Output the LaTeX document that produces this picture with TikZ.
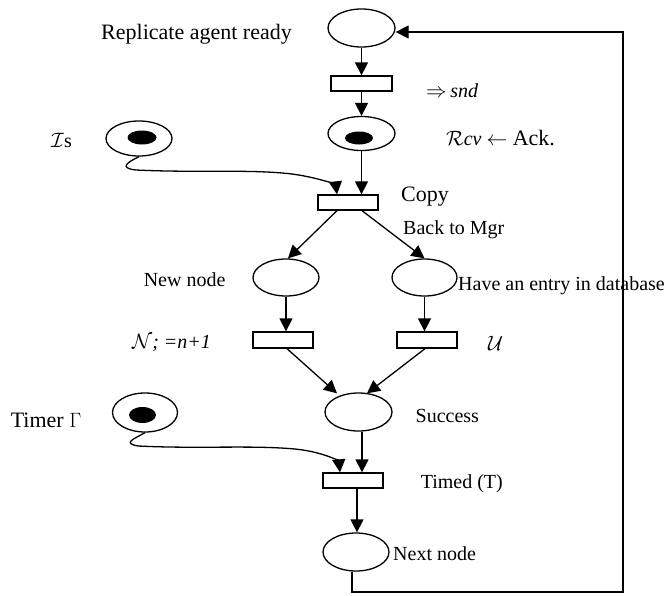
\documentclass[tikz,border=0pt]{standalone}
\usepackage{fontspec}
\setmainfont{Liberation Serif}
\usetikzlibrary{arrows.meta,calc,shapes.geometric}
\begin{document}
\begin{tikzpicture}[x=1pt,y=-1pt,
  place/.style={draw,ellipse,line width=1.3pt,inner sep=0pt},
  trans/.style={draw,rectangle,line width=1.3pt,inner sep=0pt,minimum width=60pt,minimum height=15pt},
  token/.style={fill=black,ellipse,inner sep=0pt},
  arr/.style={line width=1.3pt,-{Triangle[length=13pt,width=13pt]}},
  lbl/.style={anchor=west,inner sep=0pt,font=\fontsize{20}{24}\selectfont},
  lblb/.style={anchor=west,inner sep=0pt,font=\fontsize{22}{26}\selectfont}]
\useasboundingbox (0,0) rectangle (666,595);
% places
\node[place,minimum width=67pt,minimum height=38pt] (p1) at (361.5,28) {};
\node[place,minimum width=67pt,minimum height=34pt] (p2) at (361.5,133.5) {};
\node[token,minimum width=28pt,minimum height=13pt] (d2) at (359,138) {};
\node[place,minimum width=66pt,minimum height=35pt] (pI) at (139,138.5) {};
\node[token,minimum width=29pt,minimum height=14pt] (dI) at (142,137.5) {};
\node[place,minimum width=66pt,minimum height=37pt] (pNew) at (286,277.5) {};
\node[place,minimum width=65pt,minimum height=37pt] (pHave) at (424.5,277.5) {};
\node[place,minimum width=67pt,minimum height=38pt] (pSucc) at (358.5,412) {};
\node[place,minimum width=65pt,minimum height=39pt] (pTimer) at (145,412.5) {};
\node[token,minimum width=27pt,minimum height=16pt] (dT) at (142.5,415) {};
\node[place,minimum width=66pt,minimum height=38pt] (pNext) at (356,552) {};
% transitions
\node[trans,minimum width=61pt] (t1) at (361.5,83.5) {};
\node[trans] (copy) at (348,202.5) {};
\node[trans,minimum height=16pt] (tN) at (283,340) {};
\node[trans,minimum height=16pt] (tU) at (427,340) {};
\node[trans] (tTimed) at (353,480.5) {};
% corners of feedback loop
\coordinate (c1) at (623,592);
\coordinate (c2) at (623,32);
% arcs
\draw[arr] (p1.south) -- (t1.north);
\draw[arr] (t1.south) -- (p2.north);
\draw[arr] (p2.south) -- (p2.south |- copy.north);
\draw[arr] (pI.south) .. controls (128,162) and (118,168) .. (136,170)
  .. controls (200,173) and (250,169) .. (292,174)
  .. controls (322,178) and (336,186) .. ([xshift=-11pt]copy.north);
\draw[arr] ([xshift=-11pt]copy.south) -- ([xshift=2pt]pNew.north);
\draw[arr] ([xshift=14pt]copy.south) -- (pHave.north);
\draw[arr] (pNew.south) -- (pNew.south |- tN.north);
\draw[arr] (pHave.south) -- (pHave.south |- tU.north);
\draw[arr] ([xshift=4pt]tN.south) -- ($(pSucc.north)+(-21.5,1)$);
\draw[arr] ([xshift=-2pt]tU.south) -- ($(pSucc.north)+(8.5,1)$);
\draw[arr] ([xshift=3.5pt]pSucc.south) -- ([xshift=9pt]tTimed.north);
\draw[arr] (pTimer.south) .. controls (134,439) and (122,443) .. (138,446)
  .. controls (200,449) and (250,445) .. (295,449)
  .. controls (325,452) and (339,462) .. ([xshift=-13pt]tTimed.north);
\draw[arr] ([xshift=4pt]tTimed.south) -- ([xshift=1pt]pNext.north);
\draw[arr] ([xshift=-4pt]pNext.south) -- ([xshift=-4pt]pNext.south |- c1) -- (c1) -- (c2) -- ([yshift=-4pt]p1.east);
% labels
\node[lblb] (l1) at (101,34) {Replicate agent ready};
\node[lbl] (l2) at (426,91) {$\Rightarrow$\,\textit{snd}};
\node[lbl] (l3) at (446,138) {$\mathcal{R}$\textit{cv} {\fontsize{22}{26}\selectfont$\leftarrow$ Ack.}};
\node[lbl] (l4) at (51,141) {$\mathcal{I}$s};
\node[lblb] (l5) at (401,197) {Copy};
\node[lbl] (l6) at (403,230) {Back to Mgr};
\node[lbl] (l7) at (143.6,280) {New node};
\node[lbl] (l8) at (458,286) {Have an entry in database};
\node[lbl] (l9) at (132,343) {$\mathcal{N}$\textit{; =n+1}};
\node[lbl] (l10) at (488,343) {$\mathcal{U}$};
\node[lblb] (l11) at (10.6,420) {Timer $\Gamma$};
\node[lbl] (l12) at (415.5,416) {Success};
\node[lbl] (l13) at (420.6,484) {Timed (T)};
\node[lbl] (l14) at (393,554) {Next node};
\end{tikzpicture}
\end{document}
